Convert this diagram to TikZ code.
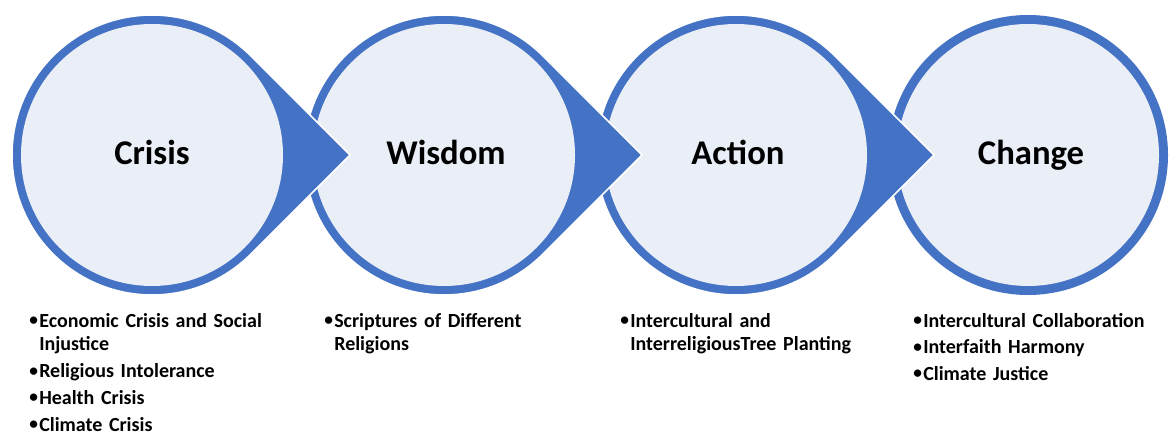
\documentclass[tikz,border=0pt]{standalone}
\usepackage{fontspec}
\setmainfont{Carlito}
\usetikzlibrary{positioning,calc}
\definecolor{StepBlue}{HTML}{4472C4}
\definecolor{StepFill}{HTML}{E9EEF7}
% one bullet point with hanging indent
\newcommand{\bitem}[1]{\par\hangindent=7.5pt\hangafter=1\noindent\makebox[7.5pt][l]{\raisebox{1.2pt}{\fontsize{13}{13}\selectfont\textbullet}}#1\par\vspace{2pt}}

\begin{document}
\begin{tikzpicture}[x=0.75pt,y=-0.75pt,
    title/.style={font=\fontsize{26}{30}\selectfont\bfseries,anchor=base,inner sep=0pt},
    listbox/.style={font=\fontsize{15}{18}\selectfont\bfseries,text width=220pt,align=left,anchor=base west,inner sep=0pt}]
  \useasboundingbox (0,0) rectangle (1169,434);

  % last step: plain circle
  \fill[StepBlue] (1028,155) circle[radius=140];
  \fill[StepFill] (1028,155) circle[radius=131];

  % the other steps, right to left, each with a pointed tip
  \foreach \cx in {736,444,152}{
    \fill[StepBlue,draw=white,line width=1.2] (\cx+198,155) -- ($(\cx,155)+(45:140)$)
      arc[start angle=45,end angle=315,radius=140] -- cycle;
    \fill[StepFill] (\cx,155) circle[radius=131];
  }

  \node[title] (crisis) at (152,165) {Crisis};
  \node[title] (wisdom) at (446,165) {Wisdom};
  \node[title] (action) at (738,165) {Action};
  \node[title] (change) at (1031,165) {Change};

  \node[listbox] (crisisList) at (29,303) {%
    \bitem{Economic Crisis and Social\newline Injustice}
    \bitem{Religious Intolerance}
    \bitem{Health Crisis}
    \bitem{Climate Crisis}};
  \node[listbox] (wisdomList) at (324,303) {%
    \bitem{Scriptures of Different\newline Religions}};
  \node[listbox] (actionList) at (620,303) {%
    \bitem{Intercultural and\newline InterreligiousTree Planting}};
  \node[listbox] (changeList) at (913,303) {%
    \bitem{Intercultural Collaboration}
    \bitem{Interfaith Harmony}
    \bitem{Climate Justice}};
\end{tikzpicture}
\end{document}
